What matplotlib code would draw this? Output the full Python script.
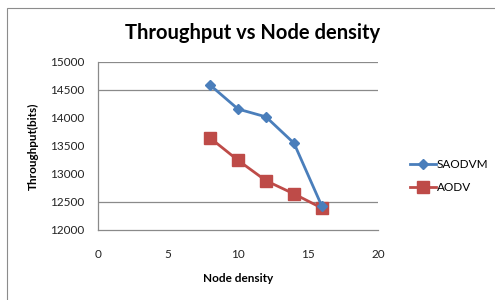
import matplotlib
matplotlib.use("Agg")
import matplotlib.pyplot as plt
from matplotlib.patches import Rectangle

node_density = [8, 10, 12, 14, 16]
saodvm = [14590, 14160, 14020, 13550, 12420]
aodv = [13645, 13245, 12880, 12645, 12390]
x_ticks = [0, 5, 10, 15, 20]
y_ticks = [12000, 12500, 13000, 13500, 14000, 14500, 15000]
grid_levels = [12500, 14500, 15000]

plt.rcParams['font.family'] = ['Lato', 'DejaVu Sans']

fig = plt.figure(figsize=(4.95, 3.0), dpi=100)
fig.patch.set_facecolor('white')
fig.patches.append(Rectangle((7/495, -0.1), 1.2, (1 - 8/300) + 0.1, transform=fig.transFigure,
                             fill=False, edgecolor='#8c8c8c', linewidth=0.8))

ax = fig.add_axes([98/495, 1 - 230/300, (378 - 98)/495, (230 - 62)/300])
for g in grid_levels:
    ax.axhline(g, color='#8a8a8a', linewidth=0.9, zorder=0)

ax.plot(node_density, saodvm, color='#4A7EBB', linewidth=2, marker='D', markersize=5,
        label='SAODVM', zorder=3)
ax.plot(node_density, aodv, color='#BE4B48', linewidth=2, marker='s', markersize=8,
        label='AODV', zorder=2)

ax.set_xlim(0, 20)
ax.set_ylim(12000, 15000)
ax.set_xticks(x_ticks)
ax.set_yticks(y_ticks)
ax.tick_params(axis='both', length=0, labelsize=8.5, colors='#222222')
ax.tick_params(axis='x', pad=14)
ax.tick_params(axis='y', pad=10)
for s in ['top', 'right']:
    ax.spines[s].set_visible(False)
for s in ['left', 'bottom']:
    ax.spines[s].set_color('#8a8a8a')
    ax.spines[s].set_linewidth(0.9)

fig.text(253/495, 1 - 33/300, 'Throughput vs Node density', ha='center', va='center',
         fontsize=14.5, fontweight='bold')
fig.text(238/495, 1 - 279/300, 'Node density', ha='center', va='center',
         fontsize=8.5, fontweight='bold')
fig.text(33/495, 1 - 146/300, 'Throughput(bits)', ha='center', va='center',
         fontsize=8.5, fontweight='bold', rotation=90)

fig.legend(loc='center left', bbox_to_anchor=(405/495, 1 - 176/300), frameon=False,
           fontsize=8.5, handlelength=2.2, handletextpad=0.1, labelspacing=1.0,
           borderaxespad=0)

fig.savefig('out.png', dpi=100, facecolor='white')
